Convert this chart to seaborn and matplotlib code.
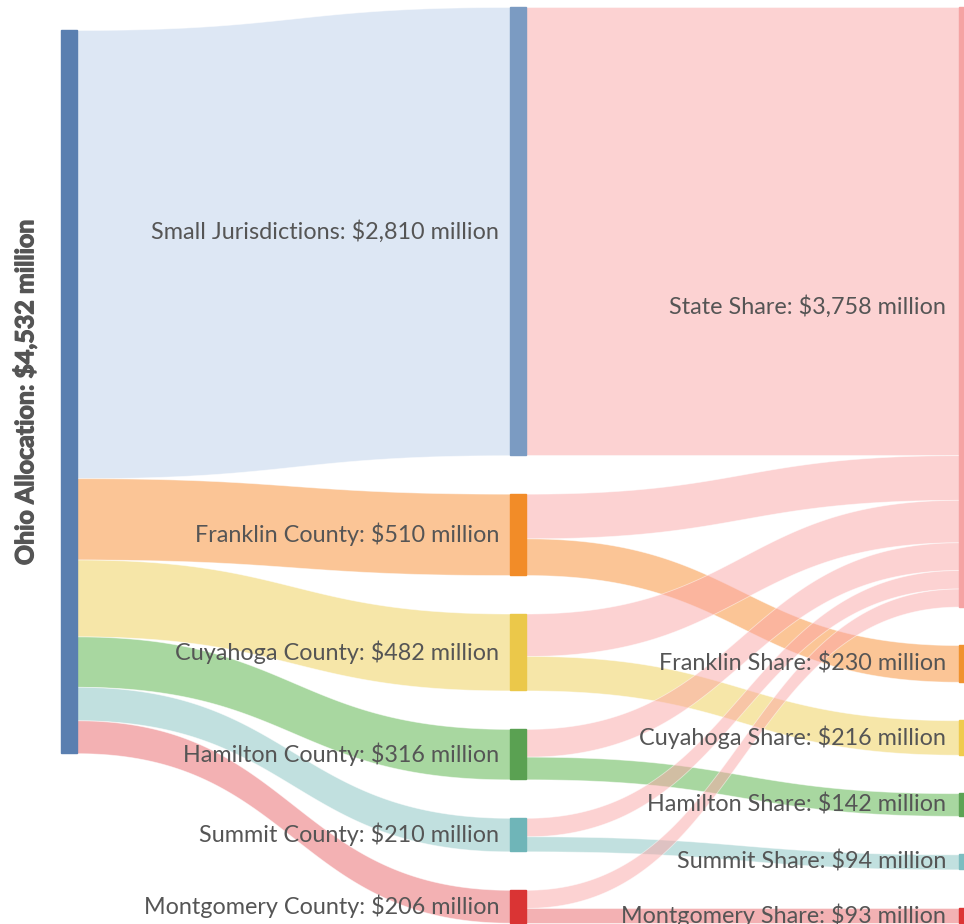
import numpy as np
import matplotlib
matplotlib.use("Agg")
import matplotlib.pyplot as plt
import matplotlib.patheffects as pe
import seaborn as sns

# ---- data (million $) ----
counties = ["Small Jurisdictions", "Franklin County", "Cuyahoga County",
            "Hamilton County", "Summit County", "Montgomery County"]
county_alloc = [2810, 510, 482, 316, 210, 206]
to_state = [2810, 280, 266, 174, 116, 113]
to_local = [0, 230, 216, 142, 94, 93]
shares = ["State Share", "Franklin Share", "Cuyahoga Share",
          "Hamilton Share", "Summit Share", "Montgomery Share"]
share_labels = ["$3,758 million", "$230 million", "$216 million",
                "$142 million", "$94 million", "$93 million"]
county_labels = ["$2,810 million", "$510 million", "$482 million",
                 "$316 million", "$210 million", "$206 million"]
total_label = "Ohio Allocation: $4,532 million"

# colours
node_cols = ["#7b9bc2", "#f28c28", "#ebc84a", "#5aa152", "#6fb5b8", "#da3434"]
share_node_cols = ["#f5a3a3", "#f0922e", "#efcb4d", "#5ea355", "#7dbdc0", "#dc3535"]
flow_cols = ["#bcd0eb", "#f88c2e", "#eecf52", "#53b142", "#85c3c1", "#e96569"]
state_flow = "#fba6a6"
ohio_col = "#5a7fb0"

sns.set_theme(style="white")
plt.rcParams["font.family"] = ["Lato", "DejaVu Sans"]

W, H = 964, 924
fig = plt.figure(figsize=(9.64, 9.24), dpi=100)
ax = fig.add_axes([0, 0, 1, 1])
ax.set_xlim(0, W)
ax.set_ylim(H, 0)
ax.axis("off")

k = 0.1595      # px per million
gap = 38.5
nw = 16
x_left, x_mid, x_right = 61, 510, 959
top_left, top_col = 30, 7

# node layout
left_h = sum(county_alloc) * k
mid_y = []
y = top_col
for v in county_alloc:
    mid_y.append((y, y + v * k))
    y += v * k + gap
right_vals = [sum(to_state)] + to_local[1:]
right_y = []
y = top_col
for v in right_vals:
    right_y.append((y, y + v * k))
    y += v * k + gap


def link(xa, xb, ya0, ya1, yb0, yb1, col):
    t = np.linspace(0, 1, 120)
    xs = xa + (xb - xa) * (1.5 * t * (1 - t) + t ** 3)
    s = 3 * t ** 2 - 2 * t ** 3
    top = ya0 + (yb0 - ya0) * s
    bot = ya1 + (yb1 - ya1) * s
    ax.fill_between(xs, top, bot, color=col, alpha=0.5, lw=0.6,
                    edgecolor="white", zorder=1)


# Ohio -> counties
y = top_left
for i, v in enumerate(county_alloc):
    link(x_left + nw, x_mid, y, y + v * k, mid_y[i][0], mid_y[i][1], flow_cols[i])
    y += v * k

# counties -> shares
state_y = right_y[0][0]
for i in range(len(counties)):
    m0 = mid_y[i][0]
    hs = to_state[i] * k
    link(x_mid + nw, x_right, m0, m0 + hs, state_y, state_y + hs, state_flow)
    state_y += hs
    if to_local[i] > 0:
        hl = to_local[i] * k
        link(x_mid + nw, x_right, m0 + hs, m0 + hs + hl,
             right_y[i][0], right_y[i][1], flow_cols[i])

# nodes
ax.add_patch(plt.Rectangle((x_left, top_left), nw, left_h, color=ohio_col, zorder=3))
for i, (a, b) in enumerate(mid_y):
    ax.add_patch(plt.Rectangle((x_mid, a), nw, b - a, color=node_cols[i], zorder=3))
for i, (a, b) in enumerate(right_y):
    ax.add_patch(plt.Rectangle((x_right, a), nw, b - a, color=share_node_cols[i], zorder=3))

# labels
tc = "#555555"
fs = 16.8
ax.text(25, top_left + left_h / 2, total_label, rotation=90, ha="center",
        va="center", fontsize=18, fontweight="bold", color=tc, zorder=4,
        path_effects=[pe.withStroke(linewidth=0.9, foreground=tc)])
for i, (a, b) in enumerate(mid_y):
    ax.text(x_mid - 11, (a + b) / 2, f"{counties[i]}: {county_labels[i]}",
            ha="right", va="center", fontsize=fs, color=tc, zorder=4)
for i, (a, b) in enumerate(right_y):
    ax.text(x_right - 13, (a + b) / 2, f"{shares[i]}: {share_labels[i]}",
            ha="right", va="center", fontsize=fs, color=tc, zorder=4)

fig.savefig("out.png", dpi=100)
